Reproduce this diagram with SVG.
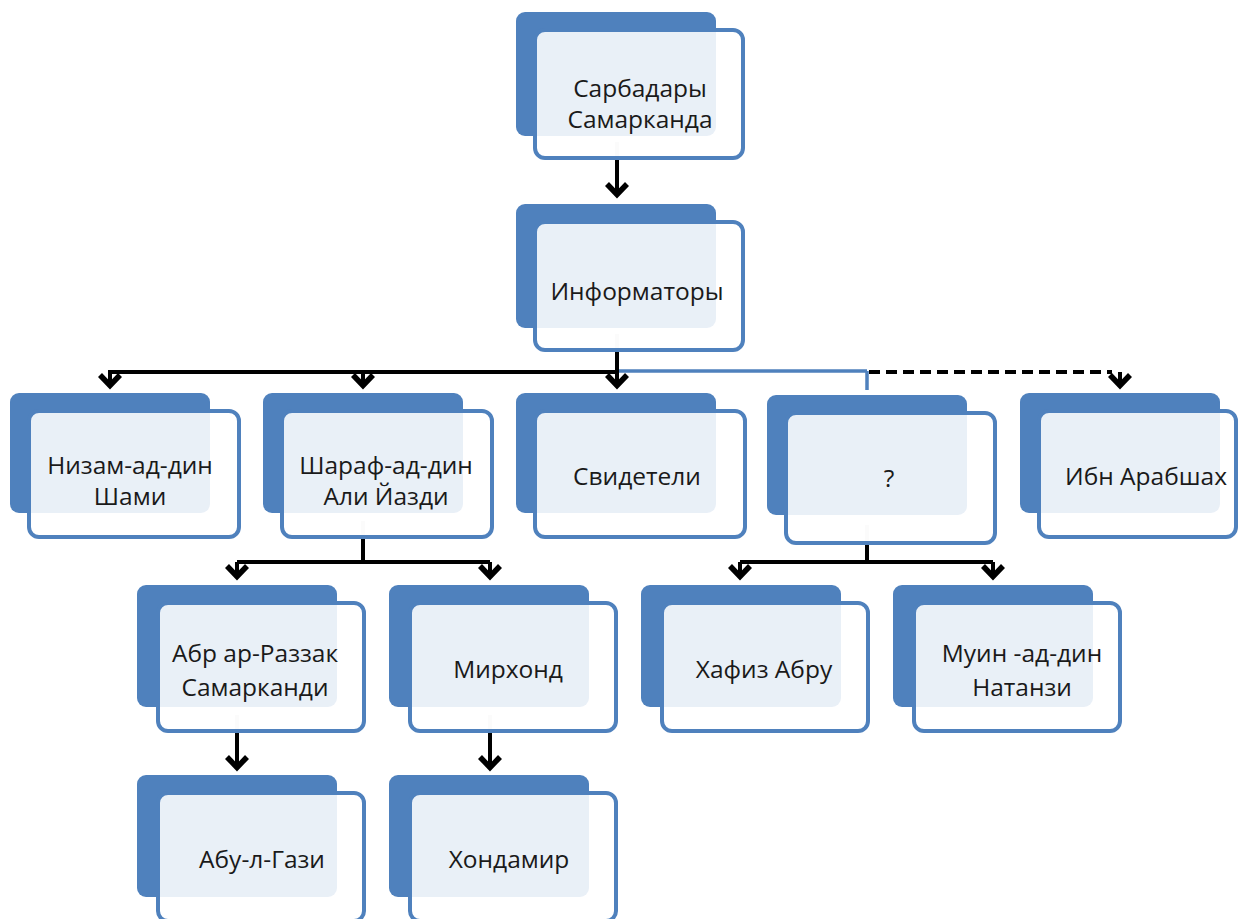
<svg xmlns="http://www.w3.org/2000/svg" width="1238" height="919" viewBox="0 0 1238 919">
<style>
.back{fill:#4f81bd}
.front{fill:#ffffff;fill-opacity:0.88;stroke:#4f81bd;stroke-width:4}
.t{font-family:"Open Sans","Noto Sans",sans-serif;font-size:24.5px;fill:#1a1a1a;text-anchor:middle}
.ln{stroke:#000;stroke-width:4;fill:none}
.ghost{stroke:#d8d8d8;stroke-width:4}
</style>
<defs>
<marker id="arr" markerUnits="userSpaceOnUse" orient="auto" markerWidth="30" markerHeight="30" viewBox="-15 -15 30 30" refX="0" refY="0" overflow="visible">
<path d="M-12,-10 L-1.5,0 L-12,10" fill="none" stroke="#000" stroke-width="5.5" stroke-linejoin="miter"/>
</marker>
</defs>
<rect width="1238" height="919" fill="#fff"/>
<g id="connectors">
<line class="ghost" x1="617" y1="142" x2="617" y2="158"/>
<line class="ln" x1="617" y1="158" x2="617" y2="196" marker-end="url(#arr)"/>
<line class="ghost" x1="617" y1="334" x2="617" y2="350"/>
<line class="ln" x1="617" y1="350" x2="617" y2="372"/>
<line class="ln" x1="108" y1="372" x2="617" y2="372"/>
<line class="ln" x1="110" y1="372" x2="110" y2="387" marker-end="url(#arr)"/>
<line class="ln" x1="363" y1="372" x2="363" y2="387" marker-end="url(#arr)"/>
<line class="ln" x1="617" y1="372" x2="617" y2="387" marker-end="url(#arr)"/>
<line x1="619" y1="371" x2="867" y2="371" stroke="#4f81bd" stroke-width="3.5"/>
<line x1="867" y1="371" x2="867" y2="390" stroke="#4f81bd" stroke-width="3.5"/>
<line class="ln" x1="869" y1="372" x2="1112" y2="372" stroke-dasharray="11,6"/>
<line class="ln" x1="1120" y1="372" x2="1120" y2="387" marker-end="url(#arr)"/>
<line class="ghost" x1="363" y1="521" x2="363" y2="539"/>
<line class="ln" x1="363" y1="539" x2="363" y2="562"/>
<line class="ln" x1="237" y1="562" x2="490" y2="562"/>
<line class="ln" x1="237" y1="562" x2="237" y2="578" marker-end="url(#arr)"/>
<line class="ln" x1="490" y1="562" x2="490" y2="578" marker-end="url(#arr)"/>
<line class="ghost" x1="867" y1="525" x2="867" y2="545"/>
<line class="ln" x1="867" y1="541" x2="867" y2="562"/>
<line class="ln" x1="740" y1="562" x2="993" y2="562"/>
<line class="ln" x1="740" y1="562" x2="740" y2="578" marker-end="url(#arr)"/>
<line class="ln" x1="993" y1="562" x2="993" y2="578" marker-end="url(#arr)"/>
<line class="ghost" x1="237" y1="715" x2="237" y2="733"/>
<line class="ln" x1="237" y1="733" x2="237" y2="769" marker-end="url(#arr)"/>
<line class="ghost" x1="490" y1="715" x2="490" y2="733"/>
<line class="ln" x1="490" y1="733" x2="490" y2="769" marker-end="url(#arr)"/>
</g>
<g id="n-sarbadary">
<rect class="back" x="516" y="12" width="200" height="124" rx="9"/>
<rect class="front" x="535" y="30" width="208" height="128" rx="10"/>
<text class="t" x="640" y="97">Сарбадары</text>
<text class="t" x="640" y="128">Самарканда</text>
</g>
<g id="n-informatory">
<rect class="back" x="516" y="204" width="200" height="124" rx="9"/>
<rect class="front" x="535" y="222" width="208" height="128" rx="10"/>
<text class="t" x="637" y="300">Информаторы</text>
</g>
<g id="n-nizam">
<rect class="back" x="10" y="393" width="200" height="120" rx="9"/>
<rect class="front" x="29" y="411" width="210" height="126" rx="10"/>
<text class="t" x="130" y="474">Низам-ад-дин</text>
<text class="t" x="130" y="505">Шами</text>
</g>
<g id="n-sharaf">
<rect class="back" x="263" y="393" width="200" height="120" rx="9"/>
<rect class="front" x="282" y="411" width="210" height="126" rx="10"/>
<text class="t" x="386" y="474">Шараф-ад-дин</text>
<text class="t" x="386" y="505">Али Йазди</text>
</g>
<g id="n-svideteli">
<rect class="back" x="516" y="393" width="200" height="120" rx="9"/>
<rect class="front" x="535" y="411" width="210" height="126" rx="10"/>
<text class="t" x="637" y="485">Свидетели</text>
</g>
<g id="n-question">
<rect class="back" x="767" y="395" width="200" height="120" rx="9"/>
<rect class="front" x="786" y="413" width="209" height="130" rx="10"/>
<text class="t" x="889" y="487">?</text>
</g>
<g id="n-ibn">
<rect class="back" x="1020" y="393" width="200" height="120" rx="9"/>
<rect class="front" x="1039" y="411" width="197" height="126" rx="10"/>
<text class="t" x="1146" y="485">Ибн Арабшах</text>
</g>
<g id="n-abr">
<rect class="back" x="137" y="585" width="200" height="122" rx="9"/>
<rect class="front" x="158" y="603" width="206" height="128" rx="10"/>
<text class="t" x="255" y="662">Абр ар-Раззак</text>
<text class="t" x="255" y="696">Самарканди</text>
</g>
<g id="n-mirhond">
<rect class="back" x="389" y="585" width="200" height="122" rx="9"/>
<rect class="front" x="410" y="603" width="206" height="128" rx="10"/>
<text class="t" x="508" y="678">Мирхонд</text>
</g>
<g id="n-hafiz">
<rect class="back" x="641" y="585" width="200" height="122" rx="9"/>
<rect class="front" x="662" y="603" width="206" height="128" rx="10"/>
<text class="t" x="764" y="678">Хафиз Абру</text>
</g>
<g id="n-muin">
<rect class="back" x="893" y="585" width="200" height="122" rx="9"/>
<rect class="front" x="914" y="603" width="206" height="128" rx="10"/>
<text class="t" x="1022" y="662">Муин -ад-дин</text>
<text class="t" x="1022" y="696">Натанзи</text>
</g>
<g id="n-abul">
<rect class="back" x="137" y="775" width="200" height="122" rx="9"/>
<rect class="front" x="158" y="793" width="206" height="128" rx="10"/>
<text class="t" x="262" y="868">Абу-л-Гази</text>
</g>
<g id="n-hondamir">
<rect class="back" x="389" y="775" width="200" height="122" rx="9"/>
<rect class="front" x="410" y="793" width="206" height="128" rx="10"/>
<text class="t" x="509" y="868">Хондамир</text>
</g>
</svg>
